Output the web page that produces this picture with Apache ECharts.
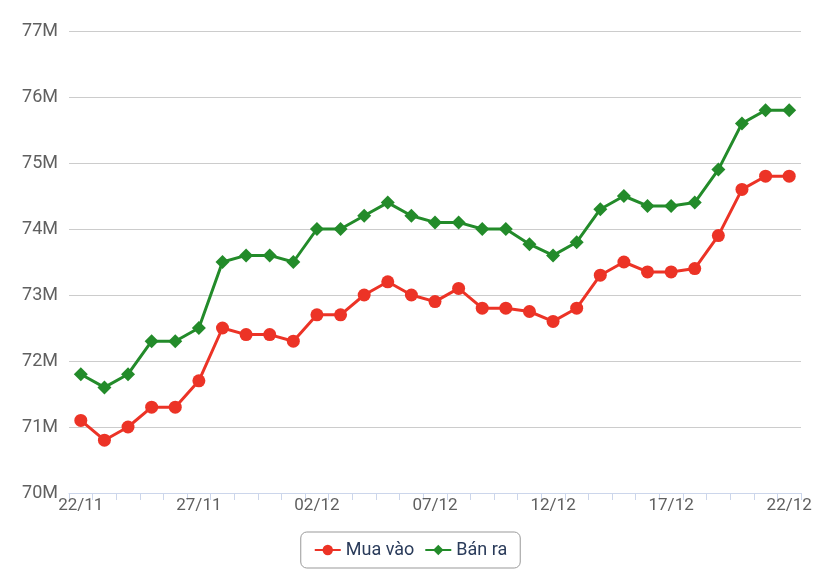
<!DOCTYPE html>
<html>
<head>
<meta charset="utf-8">
<script src="https://cdn.jsdelivr.net/npm/echarts@6/dist/echarts.min.js"></script>
<style>
html,body{margin:0;padding:0;background:#fff;}
#chart{width:821px;height:578px;}
</style>
</head>
<body>
<div id="chart"></div>
<script>
var categories = ['22/11','23/11','24/11','25/11','26/11','27/11','28/11','29/11','30/11','01/12',
  '02/12','03/12','04/12','05/12','06/12','07/12','08/12','09/12','10/12','11/12',
  '12/12','13/12','14/12','15/12','16/12','17/12','18/12','19/12','20/12','21/12','22/12'];
var muaVao = [71.1,70.8,71.0,71.3,71.3,71.7,72.5,72.4,72.4,72.3,
  72.7,72.7,73.0,73.2,73.0,72.9,73.1,72.8,72.8,72.75,
  72.6,72.8,73.3,73.5,73.35,73.35,73.4,73.9,74.6,74.8,74.8];
var banRa = [71.8,71.6,71.8,72.3,72.3,72.5,73.5,73.6,73.6,73.5,
  74.0,74.0,74.2,74.4,74.2,74.1,74.1,74.0,74.0,73.77,
  73.6,73.8,74.3,74.5,74.35,74.35,74.4,74.9,75.6,75.8,75.8];
var seriesNames = ['Mua vào','Bán ra'];

var chart = echarts.init(document.getElementById('chart'));
chart.setOption({
  animation: false,
  textStyle: {fontFamily: 'Roboto'},
  grid: {left: 69, right: 20, top: 31, bottom: 85, containLabel: false},
  legend: {
    data: seriesNames,
    bottom: 10,
    left: 'center',
    borderColor: '#999',
    borderWidth: 1,
    borderRadius: 6,
    padding: [9, 13],
    itemGap: 10,
    itemWidth: 26,
    itemHeight: 13,
    textStyle: {color: '#2a3b5a', fontSize: 18, fontFamily: 'Roboto'}
  },
  xAxis: {
    type: 'category',
    data: categories,
    boundaryGap: true,
    axisLine: {lineStyle: {color: '#ccd6eb', width: 1}},
    axisTick: {show: true, interval: 0, length: 7, lineStyle: {color: '#ccd6eb'}},
    axisLabel: {interval: 4, color: '#606060', fontSize: 17, margin: 4, fontFamily: 'Roboto'}
  },
  yAxis: {
    type: 'value',
    min: 70, max: 77, interval: 1,
    axisLine: {show: false},
    axisTick: {show: false},
    axisLabel: {formatter: '{value}M', color: '#606060', fontSize: 18, margin: 11, fontFamily: 'Roboto'},
    splitLine: {lineStyle: {color: '#cccccc', width: 1}}
  },
  series: [
    {
      name: seriesNames[0],
      type: 'line',
      data: muaVao,
      symbol: 'circle',
      symbolSize: 13,
      itemStyle: {color: '#ec3326'},
      lineStyle: {color: '#ec3326', width: 3}
    },
    {
      name: seriesNames[1],
      type: 'line',
      data: banRa,
      symbol: 'diamond',
      symbolSize: 14,
      itemStyle: {color: '#238b2a'},
      lineStyle: {color: '#238b2a', width: 3}
    }
  ]
});
</script>
</body>
</html>
